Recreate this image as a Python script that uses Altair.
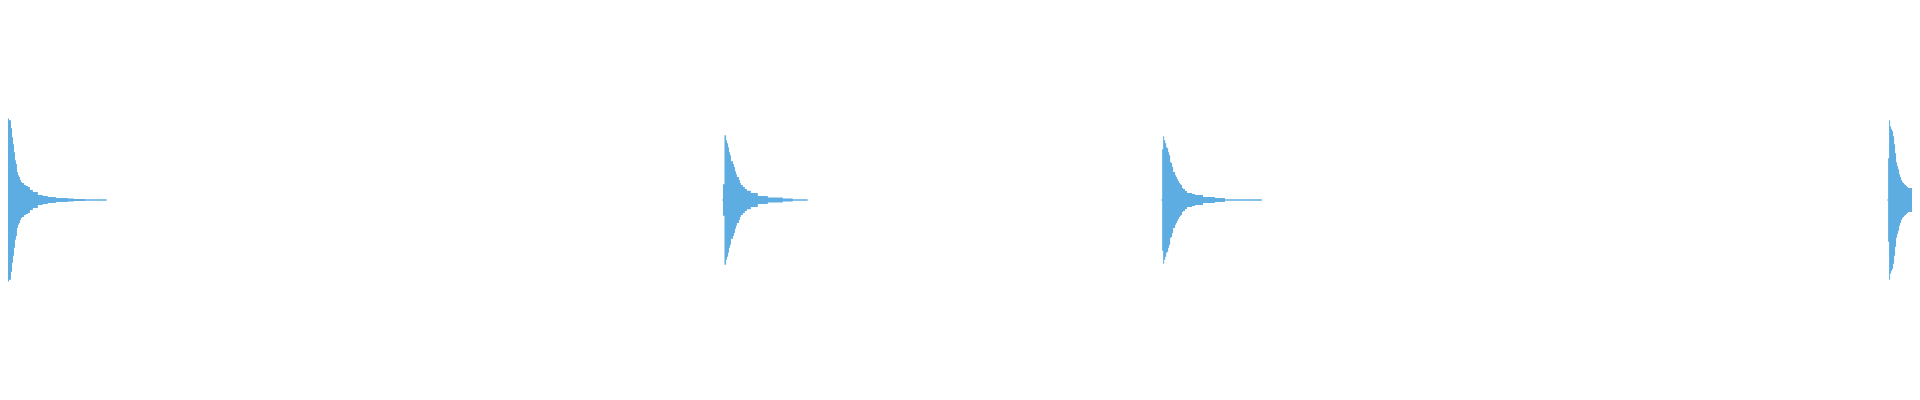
import altair as alt
import pandas as pd

# Four decaying percussive hits (waveform envelope), time in ms, amplitude in [-1, 1]
BURSTS = ["hit 1", "hit 2", "hit 3", "hit 4"]
ONSETS_MS = [0, 1436, 2318, 3776]

HIT1_OFFSETS_MS = [0, 2, 6, 8, 10, 12, 14, 16, 18, 20, 22, 24, 26, 28, 32, 36, 40, 44, 50, 60, 70, 80, 96,
                   120, 132, 154, 198]
HIT1_AMPS = [0.426, 0.417, 0.375, 0.328, 0.292, 0.25, 0.208, 0.188, 0.146, 0.130, 0.120, 0.104, 0.094, 0.089,
             0.078, 0.073, 0.068, 0.052, 0.042, 0.026, 0.021, 0.016, 0.010, 0.008, 0.005, 0.004, 0.004]

HIT2_OFFSETS_MS = [-2, 0, 3, 6, 8, 10, 12, 14, 16, 20, 22, 24, 26, 28, 32, 34, 36, 40, 44, 48, 56, 70, 90, 120, 140, 170]
HIT2_AMPS = [0.003, 0.083, 0.339, 0.313, 0.297, 0.276, 0.25, 0.234, 0.203, 0.188, 0.172, 0.151, 0.135, 0.12,
             0.104, 0.089, 0.078, 0.068, 0.057, 0.049, 0.036, 0.021, 0.013, 0.008, 0.004, 0.004]

HIT3_OFFSETS_MS = [-2, 0, 2, 4, 6, 8, 10, 12, 14, 16, 18, 20, 22, 26, 28, 30, 32, 34, 36, 38, 40, 42, 46, 50, 60,
                   66, 82, 106, 126, 200]
HIT3_AMPS = [0.003, 0.266, 0.333, 0.313, 0.297, 0.276, 0.271, 0.25, 0.234, 0.198, 0.193, 0.172, 0.146, 0.13,
             0.12, 0.109, 0.099, 0.089, 0.083, 0.078, 0.063, 0.057, 0.047, 0.036, 0.031, 0.026, 0.016, 0.010,
             0.004, 0.004]

HIT4_OFFSETS_MS = [-2, 0, 2, 4, 6, 8, 10, 12, 14, 16, 18, 20, 22, 24, 26, 28, 30, 32, 34, 36, 38, 40, 60]
HIT4_AMPS = [0.003, 0.219, 0.417, 0.385, 0.37, 0.359, 0.333, 0.292, 0.245, 0.198, 0.177, 0.161, 0.135, 0.12,
             0.104, 0.094, 0.089, 0.083, 0.078, 0.073, 0.068, 0.063, 0.063]

OFFSETS = [HIT1_OFFSETS_MS, HIT2_OFFSETS_MS, HIT3_OFFSETS_MS, HIT4_OFFSETS_MS]
AMPS = [HIT1_AMPS, HIT2_AMPS, HIT3_AMPS, HIT4_AMPS]

rows = []
for name, onset, offs, amps in zip(BURSTS, ONSETS_MS, OFFSETS, AMPS):
    for o, a in zip(offs, amps):
        rows.append({"hit": name, "t": onset + o, "hi": a, "lo": -a})
df = pd.DataFrame(rows)

chart = (
    alt.Chart(df)
    .mark_area(interpolate="step-after", color="#5DADE2", clip=True, opacity=1)
    .encode(
        x=alt.X("t:Q", scale=alt.Scale(domain=[0, 3824], nice=False, zero=False), axis=None),
        y=alt.Y("hi:Q", scale=alt.Scale(domain=[-1, 1], nice=False), axis=None),
        y2="lo:Q",
        detail="hit:N",
    )
    .properties(width=1912, height=384, padding=0, autosize="none", background="white")
    .configure_view(stroke=None)
)

chart.save("out.html", embed_options={"renderer": "svg", "actions": False})
